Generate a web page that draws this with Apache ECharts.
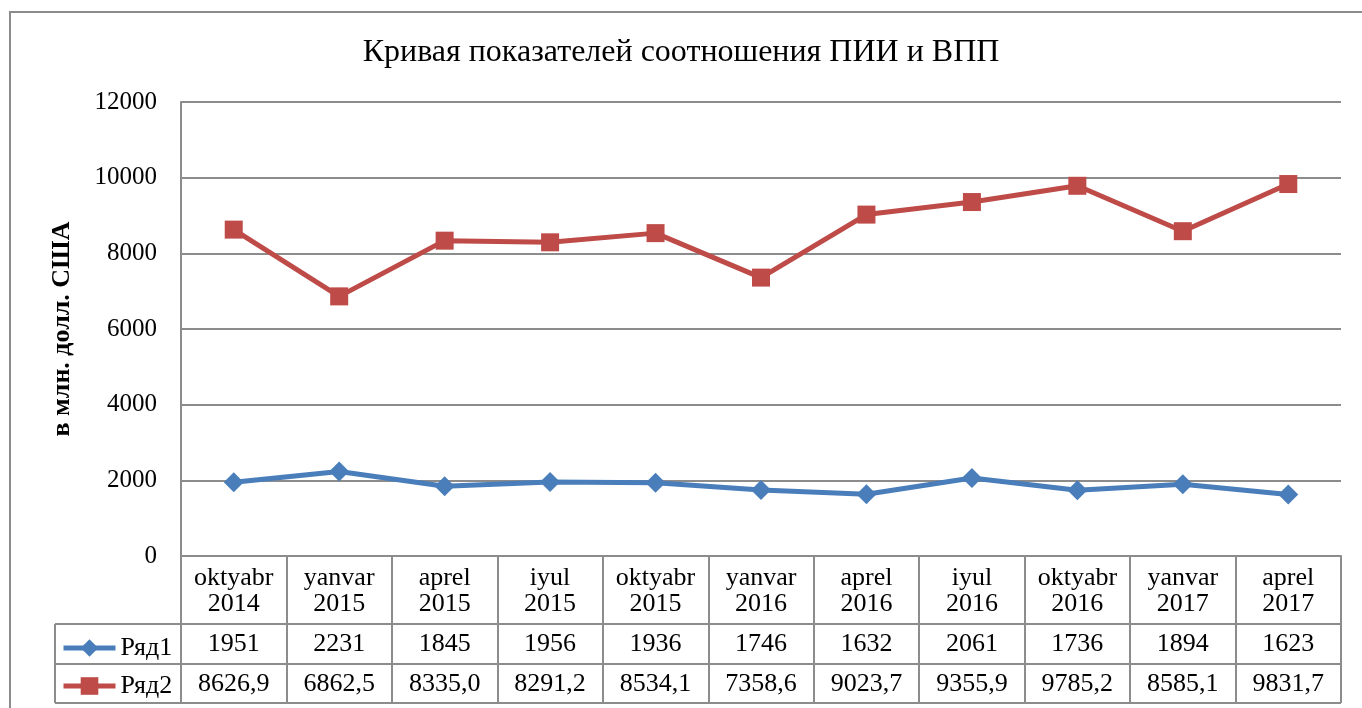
<!DOCTYPE html>
<html><head><meta charset="utf-8">
<script src="https://cdn.jsdelivr.net/npm/echarts@6/dist/echarts.min.js"></script>
<style>html,body{margin:0;padding:0;background:#fff}#c{width:1362px;height:708px}</style>
</head><body><div id="c"></div>
<script>
const categories = ['oktyabr\n2014','yanvar\n2015','aprel\n2015','iyul\n2015','oktyabr\n2015','yanvar\n2016','aprel\n2016','iyul\n2016','oktyabr\n2016','yanvar\n2017','aprel\n2017'];
const series1 = [1951, 2231, 1845, 1956, 1936, 1746, 1632, 2061, 1736, 1894, 1623];
const series2 = [8626.9, 6862.5, 8335.0, 8291.2, 8534.1, 7358.6, 9023.7, 9355.9, 9785.2, 8585.1, 9831.7];
const yTicks = {min: 0, max: 12000, interval: 2000};
const seriesNames = ['Ряд1', 'Ряд2'];

const serif = '"Liberation Serif","Times New Roman",serif';
const gray = '#8c8c8c';
const fmt1 = v => String(v);
const fmt2 = v => v.toFixed(1).replace('.', ',');

const chart = echarts.init(document.getElementById('c'));
const tableAxis = (data, offset, len) => ({
  type: 'category', gridIndex: 0, position: 'bottom', offset: offset, data: data,
  boundaryGap: true,
  axisLine: {show: true, lineStyle: {color: gray, width: 2}},
  axisTick: {show: true, length: len, interval: 0, lineStyle: {color: gray, width: 2}},
  axisLabel: {interval: 0, fontFamily: serif, fontSize: 26, color: '#000', margin: 7},
  splitLine: {show: false}
});
chart.setOption({
  animation: false,
  title: {text: 'Кривая показателей соотношения ПИИ и ВПП', left: 'center', top: 32,
    textStyle: {fontFamily: serif, fontSize: 32, fontWeight: 'normal', color: '#000'}},
  grid: {left: 181, right: 21, top: 102, bottom: 152},
  legend: {orient: 'vertical', left: 56, top: 630, itemGap: 12, itemWidth: 52, itemHeight: 22,
    lineStyle: {width: 5},
    textStyle: {fontFamily: serif, fontSize: 26, color: '#000'}, data: seriesNames},
  xAxis: [
    {type: 'category', data: categories, boundaryGap: true,
     axisLine: {show: true, lineStyle: {color: gray, width: 2}},
     axisTick: {show: true, length: 68, interval: 0, lineStyle: {color: gray, width: 2}},
     axisLabel: {interval: 0, fontFamily: serif, fontSize: 26, lineHeight: 26, color: '#000', margin: 9}},
    tableAxis(series1.map(fmt1), 68, 40),
    tableAxis(series2.map(fmt2), 108, 39)
  ],
  yAxis: {type: 'value', min: yTicks.min, max: yTicks.max, interval: yTicks.interval,
    name: 'в млн. долл. США', nameLocation: 'middle', nameRotate: 90, nameGap: 106,
    nameTextStyle: {fontFamily: serif, fontSize: 26, fontWeight: 'bold', color: '#000'},
    axisLine: {show: true, lineStyle: {color: gray, width: 2}},
    axisTick: {show: false},
    axisLabel: {fontFamily: serif, fontSize: 25, color: '#000', margin: 24, formatter: v => String(v)},
    splitLine: {lineStyle: {color: gray, width: 2}}},
  series: [
    {name: seriesNames[0], type: 'line', data: series1, symbol: 'diamond', symbolSize: 20,
     lineStyle: {color: '#4A7EBB', width: 5}, itemStyle: {color: '#4A7EBB'}},
    {name: seriesNames[1], type: 'line', data: series2, symbol: 'rect', symbolSize: 18,
     lineStyle: {color: '#BE4B48', width: 5}, itemStyle: {color: '#BE4B48'}}
  ],
  graphic: [
    {type: 'rect', shape: {x: 10, y: 12, width: 1400, height: 750}, style: {fill: null, stroke: gray, lineWidth: 2}, silent: true, z: 0},
    {type: 'line', shape: {x1: 55, y1: 624, x2: 181, y2: 624}, style: {stroke: gray, lineWidth: 2}},
    {type: 'line', shape: {x1: 55, y1: 664, x2: 181, y2: 664}, style: {stroke: gray, lineWidth: 2}},
    {type: 'line', shape: {x1: 55, y1: 703, x2: 1341, y2: 703}, style: {stroke: gray, lineWidth: 2}},
    {type: 'line', shape: {x1: 55, y1: 624, x2: 55, y2: 703}, style: {stroke: gray, lineWidth: 2}}
  ]
});
</script></body></html>
